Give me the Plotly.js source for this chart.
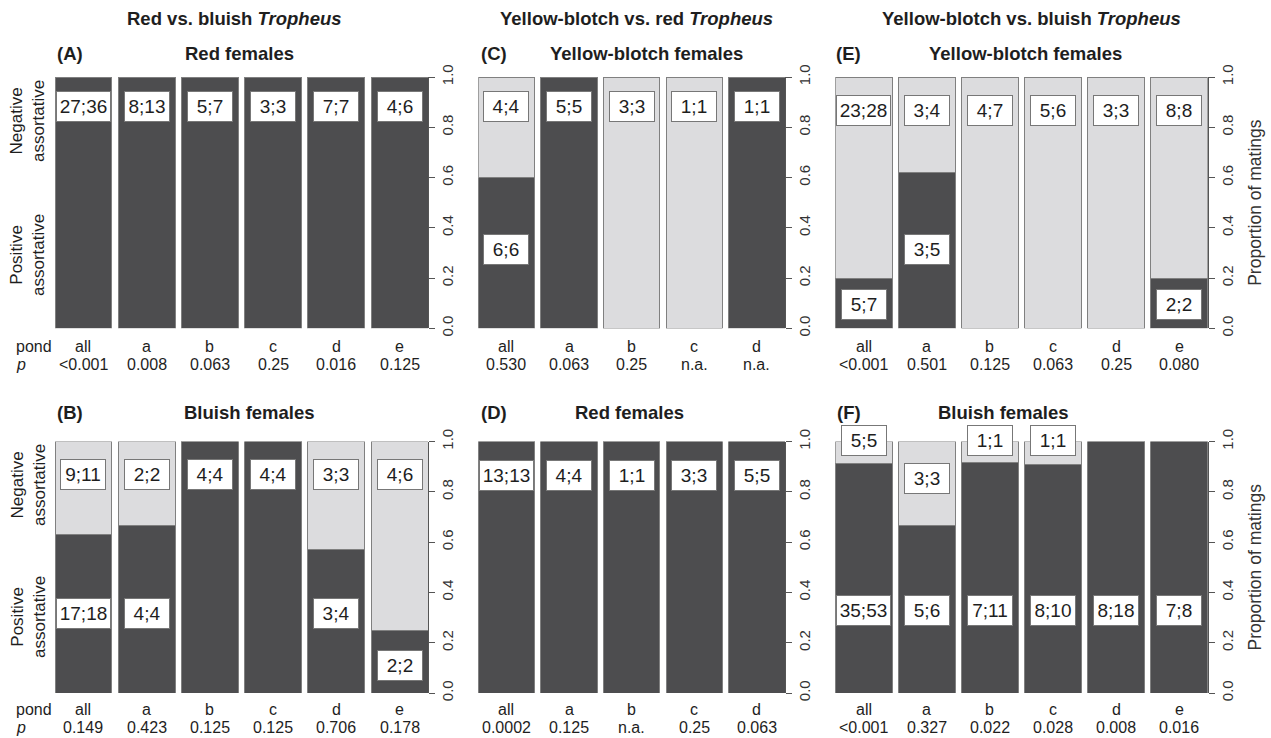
<!DOCTYPE html>
<html>
<head>
<meta charset="utf-8">
<script src="https://cdn.plot.ly/plotly-3.0.1.min.js"></script>
<style>html,body{margin:0;padding:0;background:#fff;}#chart{width:1271px;height:738px;}</style>
</head>
<body>
<div id="chart"></div>
<script>
// ---------------- DATA ----------------
// Proportion of positive-assortative matings per pond (dark segment); negative = 1 - positive
const pondsA = ['all', 'a', 'b', 'c', 'd', 'e'];
const posA = [1, 1, 1, 1, 1, 1];
const pA = ['<0.001', '0.008', '0.063', '0.25', '0.016', '0.125'];
const upperLabA = ['27;36', '8;13', '5;7', '3;3', '7;7', '4;6'];
const lowerLabA = ['', '', '', '', '', ''];

const pondsB = ['all', 'a', 'b', 'c', 'd', 'e'];
const posB = [0.63, 0.667, 1, 1, 0.571, 0.25];
const pB = ['0.149', '0.423', '0.125', '0.125', '0.706', '0.178'];
const upperLabB = ['9;11', '2;2', '4;4', '4;4', '3;3', '4;6'];
const lowerLabB = ['17;18', '4;4', '', '', '3;4', '2;2'];

const pondsC = ['all', 'a', 'b', 'c', 'd'];
const posC = [0.6, 1, 0, 0, 1];
const pC = ['0.530', '0.063', '0.25', 'n.a.', 'n.a.'];
const upperLabC = ['4;4', '5;5', '3;3', '1;1', '1;1'];
const lowerLabC = ['6;6', '', '', '', ''];

const pondsD = ['all', 'a', 'b', 'c', 'd'];
const posD = [1, 1, 1, 1, 1];
const pD = ['0.0002', '0.125', 'n.a.', '0.25', '0.063'];
const upperLabD = ['13;13', '4;4', '1;1', '3;3', '5;5'];
const lowerLabD = ['', '', '', '', ''];

const pondsE = ['all', 'a', 'b', 'c', 'd', 'e'];
const posE = [0.2, 0.62, 0, 0, 0, 0.2];
const pE = ['<0.001', '0.501', '0.125', '0.063', '0.25', '0.080'];
const upperLabE = ['23;28', '3;4', '4;7', '5;6', '3;3', '8;8'];
const lowerLabE = ['5;7', '3;5', '', '', '', '2;2'];

const pondsF = ['all', 'a', 'b', 'c', 'd', 'e'];
const posF = [0.914, 0.667, 0.917, 0.909, 1, 1];
const pF = ['<0.001', '0.327', '0.022', '0.028', '0.008', '0.016'];
const upperLabF = ['5;5', '3;3', '1;1', '1;1', '', ''];
const lowerLabF = ['35;53', '5;6', '7;11', '8;10', '8;18', '7;8'];

const columnHeaders = ['Red vs. bluish <i>Tropheus</i>', 'Yellow-blotch vs. red <i>Tropheus</i>', 'Yellow-blotch vs. bluish <i>Tropheus</i>'];
const panelLetters = ['(A)', '(C)', '(E)', '(B)', '(D)', '(F)'];
const panelTitles = ['Red females', 'Yellow-blotch females', 'Yellow-blotch females', 'Bluish females', 'Red females', 'Bluish females'];
const yTickVals = [0, 0.2, 0.4, 0.6, 0.8, 1.0];
const yTickText = ['0.0', '0.2', '0.4', '0.6', '0.8', '1.0'];

// ---------------- LAYOUT HELPERS ----------------
const W = 1271, H = 738;
const px = v => v / W;
const py = v => 1 - v / H;
const FONT = 'Liberation Sans, Arial, Helvetica, sans-serif';
const DARK = '#4d4d4f', LIGHT = '#dcdcde', EDGE = '#808080', TXT = '#1e1e1e';

const panels = [
  {ponds: pondsA, pos: posA, p: pA, up: upperLabA, lo: lowerLabA},
  {ponds: pondsC, pos: posC, p: pC, up: upperLabC, lo: lowerLabC},
  {ponds: pondsE, pos: posE, p: pE, up: upperLabE, lo: lowerLabE},
  {ponds: pondsB, pos: posB, p: pB, up: upperLabB, lo: lowerLabB},
  {ponds: pondsD, pos: posD, p: pD, up: upperLabD, lo: lowerLabD},
  {ponds: pondsF, pos: posF, p: pF, up: upperLabF, lo: lowerLabF}
];
// label placement (fraction of each plot's height)
const placement = [
  {up: [0.883, 0.883, 0.883, 0.883, 0.883, 0.883], lo: []},
  {up: [0.883, 0.883, 0.883, 0.883, 0.883], lo: [0.313]},
  {up: [0.867, 0.867, 0.867, 0.867, 0.867, 0.867], lo: [0.095, 0.313, 0, 0, 0, 0.095]},
  {up: [0.867, 0.867, 0.867, 0.867, 0.867, 0.867], lo: [0.315, 0.315, 0, 0, 0.315, 0.109]},
  {up: [0.866, 0.866, 0.866, 0.866, 0.866], lo: []},
  {up: [1.005, 0.851, 1.005, 1.005], lo: [0.33, 0.33, 0.33, 0.33, 0.33, 0.33]}
];
const colPx = [[55, 428], [478.3, 785], [835.3, 1207.7]];
const rowPx = [[77, 328.3], [441.5, 693]];
const pondRowPx = [346, 709];
const pRowPx = [364, 727];

const traces = [];
const annotations = [];
const layout = {
  width: W, height: H,
  margin: {l: 0, r: 0, t: 0, b: 0},
  paper_bgcolor: '#fff', plot_bgcolor: 'rgba(0,0,0,0)',
  barmode: 'stack', bargap: 0.1,
  showlegend: false,
  font: {family: FONT, color: TXT},
  annotations: annotations
};

panels.forEach((pn, i) => {
  const col = i % 3, row = Math.floor(i / 3);
  const n = i === 0 ? '' : String(i + 1);
  const xa = 'x' + n, ya = 'y' + n;
  const neg = pn.pos.map(v => 1 - v);
  traces.push({
    type: 'bar', x: pn.ponds, y: pn.pos, xaxis: xa, yaxis: ya,
    marker: {color: DARK, line: {color: EDGE, width: 1}}, hoverinfo: 'skip'
  });
  traces.push({
    type: 'bar', x: pn.ponds, y: neg, xaxis: xa, yaxis: ya,
    marker: {color: LIGHT, line: {color: EDGE, width: 1}}, hoverinfo: 'skip'
  });
  layout['xaxis' + n] = {
    domain: [px(colPx[col][0]), px(colPx[col][1])], anchor: ya,
    type: 'category', range: [-0.45, pn.ponds.length - 0.55],
    showticklabels: false, showgrid: false, zeroline: false, showline: false, ticks: '', fixedrange: true
  };
  const yax = {
    domain: [py(rowPx[row][1]), py(rowPx[row][0])], anchor: xa, side: 'right',
    range: [0, 1], tickmode: 'array', tickvals: yTickVals, ticktext: yTickText,
    tickangle: -90, ticks: 'outside', ticklen: 6, tickcolor: '#555', tickwidth: 1,
    showline: true, linecolor: '#555', linewidth: 1,
    showgrid: false, zeroline: false, fixedrange: true,
    tickfont: {family: FONT, size: 15, color: '#333'}
  };
  if (col === 2) {
    yax.title = {text: 'Proportion of matings', font: {family: FONT, size: 17.5, color: '#333'}, standoff: 14};
  }
  layout['yaxis' + n] = yax;

  // count labels
  const boxW = s => (s.length >= 5 ? 53 : 44);
  const addBox = (s, k, yv) => {
    if (!s) return;
    annotations.push({
      xref: xa, yref: ya + ' domain', x: pn.ponds[k], y: yv, text: s, showarrow: false,
      xanchor: 'center', yanchor: 'middle',
      bgcolor: '#fff', bordercolor: '#777', borderwidth: 1, borderpad: 0,
      width: boxW(s), height: 29, align: 'center', valign: 'middle',
      font: {family: FONT, size: 19, color: TXT}
    });
  };
  pn.up.forEach((s, k) => addBox(s, k, placement[i].up[k]));
  pn.lo.forEach((s, k) => addBox(s, k, placement[i].lo[k]));

  // pond and p rows
  pn.ponds.forEach((c, k) => {
    annotations.push({xref: xa, yref: 'paper', x: c, y: py(pondRowPx[row]), text: c, showarrow: false,
      xanchor: 'center', yanchor: 'middle', font: {family: FONT, size: 16, color: TXT}});
    annotations.push({xref: xa, yref: 'paper', x: c, y: py(pRowPx[row]), text: pn.p[k], showarrow: false,
      xanchor: 'center', yanchor: 'middle', font: {family: FONT, size: 16, color: TXT}});
  });
});

// row labels at the left
[0, 1].forEach(row => {
  annotations.push({xref: 'paper', yref: 'paper', x: px(14), y: py(pondRowPx[row]), text: 'pond', showarrow: false,
    xanchor: 'left', yanchor: 'middle', font: {family: FONT, size: 16, color: TXT}});
  annotations.push({xref: 'paper', yref: 'paper', x: px(14), y: py(pRowPx[row]), text: '<i>p</i>', showarrow: false,
    xanchor: 'left', yanchor: 'middle', font: {family: FONT, size: 16, color: TXT}});
});
const sideLabelY = [[121, 255], [485, 617]];
[0, 1].forEach(row => {
  annotations.push({xref: 'paper', yref: 'paper', x: px(28), y: py(sideLabelY[row][0]), text: 'Negative<br>assortative',
    showarrow: false, textangle: -90, xanchor: 'center', yanchor: 'middle',
    font: {family: FONT, size: 17, color: TXT}});
  annotations.push({xref: 'paper', yref: 'paper', x: px(28), y: py(sideLabelY[row][1]), text: 'Positive<br>assortative',
    showarrow: false, textangle: -90, xanchor: 'center', yanchor: 'middle',
    font: {family: FONT, size: 17, color: TXT}});
});

// headers and panel titles
const headerX = [125, 498, 880];
columnHeaders.forEach((t, k) => {
  annotations.push({xref: 'paper', yref: 'paper', x: px(headerX[k]), y: py(19), text: '<b>' + t + '</b>',
    showarrow: false, xanchor: 'left', yanchor: 'middle', font: {family: FONT, size: 18.5, color: TXT}});
});
const letterX = [55, 479, 834, 55, 479, 835];
const titleX = [183, 548, 927, 182, 573, 936];
const titleY = [54, 54, 54, 412, 412, 412];
panelLetters.forEach((t, k) => {
  annotations.push({xref: 'paper', yref: 'paper', x: px(letterX[k]), y: py(titleY[k]), text: '<b>' + t + '</b>',
    showarrow: false, xanchor: 'left', yanchor: 'middle', font: {family: FONT, size: 18.5, color: TXT}});
  annotations.push({xref: 'paper', yref: 'paper', x: px(titleX[k]), y: py(titleY[k]), text: '<b>' + panelTitles[k] + '</b>',
    showarrow: false, xanchor: 'left', yanchor: 'middle', font: {family: FONT, size: 18.5, color: TXT}});
});

Plotly.newPlot('chart', traces, layout, {displayModeBar: false, staticPlot: true});
</script>
</body>
</html>
